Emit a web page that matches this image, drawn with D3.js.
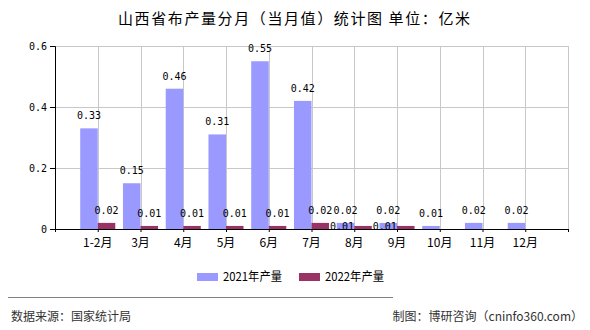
<!DOCTYPE html>
<html>
<head>
<meta charset="utf-8">
<script src="https://cdn.jsdelivr.net/npm/d3@7"></script>
<style>
  html, body { margin: 0; padding: 0; background: #fff; }
  svg { display: block; }
  .cjk { font-family: "Noto Sans CJK SC", sans-serif; }
  .num { font-family: "DejaVu Sans Mono", monospace; }
</style>
</head>
<body>
<svg id="chart" width="590" height="330"></svg>
<script>
// Monthly cloth output in Shanxi (unit: 100 million metres)
const categories = ["1-2月", "3月", "4月", "5月", "6月", "7月", "8月", "9月", "10月", "11月", "12月"];
const output2021 = [0.33, 0.15, 0.46, 0.31, 0.55, 0.42, 0.02, 0.02, 0.01, 0.02, 0.02];
const output2022 = [0.02, 0.01, 0.01, 0.01, 0.01, 0.02, 0.01, 0.01, null, null, null];
const seriesNames = ["2021年产量", "2022年产量"];
const seriesColors = ["#9999ff", "#993366"];
const yTicks = [0, 0.2, 0.4, 0.6];

const svg = d3.select("#chart");
const plot = { left: 55, right: 568, top: 46, bottom: 229 };

// Categories sit on integer positions 1..11 of a 0..12 axis
const x = d3.scaleLinear().domain([0, 12]).range([plot.left, plot.right]);
const y = d3.scaleLinear().domain([0, 0.6]).range([plot.bottom, plot.top]);
const barW = (x(1) - x(0)) * 0.41;

// Title
svg.append("text").attr("class", "cjk")
  .attr("x", 294).attr("y", 24)
  .attr("text-anchor", "middle")
  .attr("font-size", 15)
  .attr("textLength", 352).attr("lengthAdjust", "spacing")
  .attr("fill", "#000")
  .text("山西省布产量分月（当月值）统计图 单位：亿米");

// Grid
const grid = svg.append("g").attr("stroke", "#c8c8c8").attr("stroke-width", 1);
grid.selectAll("line.h").data(yTicks.filter(d => d > 0)).join("line")
  .attr("x1", plot.left).attr("x2", plot.right)
  .attr("y1", d => Math.round(y(d)) + 0.5).attr("y2", d => Math.round(y(d)) + 0.5);
grid.selectAll("line.v").data(d3.range(1, 13)).join("line")
  .attr("x1", d => Math.round(x(d)) + 0.5).attr("x2", d => Math.round(x(d)) + 0.5)
  .attr("y1", plot.top).attr("y2", plot.bottom);

// Bars
const series = [output2021, output2022];
series.forEach((vals, s) => {
  svg.append("g").attr("fill", seriesColors[s])
    .selectAll("rect")
    .data(vals.map((v, i) => ({ v, i })).filter(d => d.v != null))
    .join("rect")
    .attr("x", d => x(d.i + 1) - barW + s * barW)
    .attr("y", d => y(d.v))
    .attr("width", barW)
    .attr("height", d => y(0) - y(d.v));
});

// Axes
const yAxis = d3.axisLeft(y).tickValues(yTicks).tickSize(5).tickPadding(3)
  .tickFormat(d => d === 0 ? "0" : d3.format(".1f")(d));
const gy = svg.append("g").attr("transform", `translate(${plot.left},0)`).call(yAxis);
gy.selectAll("text").attr("class", "num").attr("font-size", 10).attr("fill", "#000");
gy.select(".domain").attr("stroke", "#000");
gy.selectAll(".tick line").attr("stroke", "#000");

const xAxis = d3.axisBottom(x).tickValues(d3.range(0, 13)).tickSize(3).tickFormat("");
const gx = svg.append("g").attr("transform", `translate(0,${plot.bottom})`).call(xAxis);
gx.select(".domain").attr("stroke", "#000");
gx.selectAll(".tick line").attr("stroke", "#000");

svg.append("g").selectAll("text").data(categories).join("text")
  .attr("class", "cjk")
  .attr("x", (d, i) => x(i + 1)).attr("y", 247)
  .attr("text-anchor", "middle").attr("font-size", 12).attr("fill", "#000")
  .text(d => d);

// Value labels, with a fallback spot when a label would overlap its neighbour
const labels = [];
categories.forEach((c, i) => {
  series.forEach((vals, s) => {
    const v = vals[i];
    if (v == null) return;
    labels.push({ v, cx: x(i + 1) - barW / 2 + s * barW, by: y(v) - 9 });
  });
});
const lw = 24, lh = 8;
const placed = [];
labels.forEach(l => {
  const hit = placed.some(p => Math.abs(p.cx - l.cx) < lw && Math.abs(p.by - l.by) < lh);
  if (hit) { l.cx -= 21; l.by = plot.bottom + 0.5; }
  placed.push(l);
});
svg.append("g").selectAll("text").data(placed).join("text")
  .attr("class", "num")
  .attr("x", d => d.cx).attr("y", d => d.by)
  .attr("text-anchor", "middle").attr("font-size", 10).attr("fill", "#000")
  .text(d => d3.format(".2f")(d.v));

// Legend
const legend = svg.append("g");
const legendX = [197, 299];
seriesNames.forEach((name, s) => {
  legend.append("rect").attr("x", legendX[s]).attr("y", 273)
    .attr("width", 21).attr("height", 8).attr("fill", seriesColors[s]);
  legend.append("text").attr("class", "cjk")
    .attr("x", legendX[s] + 26).attr("y", 281)
    .attr("font-size", 12).attr("textLength", 59).attr("lengthAdjust", "spacingAndGlyphs")
    .attr("fill", "#000").text(name);
});

// Footer
svg.append("line").attr("x1", 8).attr("x2", 393).attr("y1", 297.5).attr("y2", 297.5)
  .attr("stroke", "#808080").attr("stroke-width", 1);
svg.append("text").attr("class", "cjk")
  .attr("x", 11).attr("y", 321).attr("font-size", 12)
  .attr("textLength", 120).attr("lengthAdjust", "spacingAndGlyphs")
  .attr("fill", "#333").text("数据来源：国家统计局");
svg.append("text").attr("class", "cjk")
  .attr("x", 583).attr("y", 321).attr("font-size", 12)
  .attr("text-anchor", "end")
  .attr("fill", "#333").text("制图：博研咨询（cninfo360.com）");
</script>
</body>
</html>
